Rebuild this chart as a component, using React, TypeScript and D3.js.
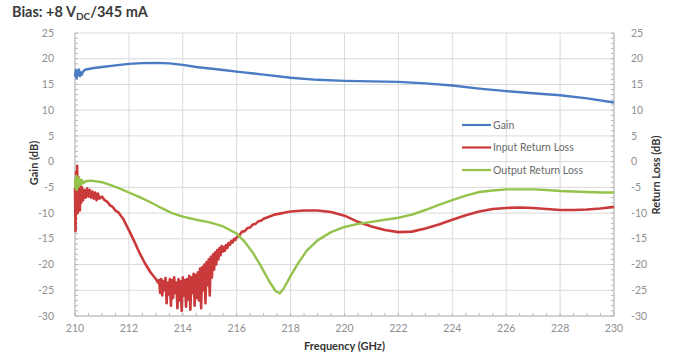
import React from "react";
import * as d3 from "d3";

const xTicks = [210, 212, 214, 216, 218, 220, 222, 224, 226, 228, 230];
const yTicks = [25, 20, 15, 10, 5, 0, -5, -10, -15, -20, -25, -30];

const gainFreq = [210.0, 210.03, 210.06, 210.09, 210.12, 210.15, 210.18, 210.21, 210.25, 210.3, 210.35, 210.4, 210.5, 210.7, 211.0, 211.5, 212.0, 212.5, 213.0, 213.5, 214.0, 214.5, 215.0, 215.5, 216.0, 217.0, 218.0, 219.0, 220.0, 221.0, 222.0, 223.0, 224.0, 225.0, 226.0, 227.0, 228.0, 229.0, 230.0];
const gainDb = [16.5, 17.8, 16.2, 17.6, 16.8, 17.9, 16.6, 17.4, 16.9, 17.5, 17.8, 17.9, 18.0, 18.2, 18.4, 18.7, 19.0, 19.15, 19.2, 19.1, 18.8, 18.4, 18.1, 17.8, 17.5, 16.9, 16.3, 15.9, 15.7, 15.6, 15.5, 15.2, 14.8, 14.2, 13.7, 13.3, 12.9, 12.3, 11.5];

const inputFreq = [210.0, 210.02, 210.04, 210.06, 210.08, 210.1, 210.12, 210.14, 210.16, 210.18, 210.2, 210.23, 210.26, 210.3, 210.35, 210.4, 210.45, 210.5, 210.55, 210.6, 210.65, 210.7, 210.75, 210.8, 210.85, 210.9, 211.0, 211.1, 211.2, 211.3, 211.4, 211.5, 211.6, 211.7, 211.8, 211.9, 212.0, 212.2, 212.4, 212.6, 212.8, 213.0, 213.08,
  213.12, 213.16, 213.2, 213.24, 213.28, 213.32, 213.36, 213.4, 213.44, 213.48, 213.52, 213.56, 213.6, 213.64, 213.68, 213.72, 213.76, 213.8, 213.84, 213.88, 213.92, 213.96,
  214.0, 214.04, 214.08, 214.12, 214.16, 214.2, 214.24, 214.28, 214.32, 214.36, 214.4, 214.44, 214.48, 214.52, 214.56, 214.6, 214.64, 214.68, 214.72, 214.76, 214.8, 214.84, 214.88, 214.92, 214.96,
  215.0, 215.04, 215.08, 215.12, 215.16, 215.2, 215.24, 215.28, 215.32, 215.36, 215.4, 215.44, 215.48, 215.52, 215.56, 215.6, 215.65, 215.7, 215.75, 215.8, 215.85, 215.9, 215.95,
  216.0, 216.1, 216.2, 216.3, 216.4, 216.5, 216.6, 216.7, 216.8, 216.9, 217.0, 217.2, 217.4, 217.6, 217.8, 218.0, 218.5, 219.0, 219.5, 220.0, 220.5, 221.0, 221.5, 222.0, 222.5, 223.0, 223.5, 224.0, 224.5, 225.0, 225.5, 226.0, 226.5, 227.0, 227.5, 228.0, 228.5, 229.0, 229.5, 230.0];
const inputDb = [-5, -13.5, -2, -9, -0.8, -10, -3, -8, -4, -9.5, -4.5, -8, -5, -7.5, -5.5, -7, -5.2, -6.8, -5.5, -7, -5.8, -7.2, -6, -7.5, -6.2, -7.2, -6.8, -7.5, -7.8, -8.5, -8.8, -9.5, -9.8, -10.5, -11.2, -12.3, -13.3, -15.5, -17.8, -19.8, -21.5, -22.8, -23.5,
  -23.0, -25.5, -22.8, -26.0, -23.2, -25.0, -22.6, -27.5, -23.5, -25.8, -22.8, -28.0, -23.0, -26.5, -22.5, -25.5, -23.5, -28.5, -22.8, -27.0, -23.2, -29.0,
  -22.5, -26.0, -23.0, -28.2, -22.8, -26.8, -22.2, -28.8, -22.5, -25.5, -21.8, -28.0, -22.0, -26.5, -21.5, -27.0, -20.8, -28.5, -20.5, -25.0, -20.0, -27.5, -19.5, -24.0, -19.0,
  -26.0, -18.5, -22.5, -18.0, -21.0, -17.6, -20.0, -17.2, -19.0, -16.8, -18.2, -16.4, -17.5, -16.6, -17.3, -16.2, -16.8, -15.8, -16.2, -15.4, -15.7, -15.0, -15.2,
  -14.7, -14.3, -13.6, -13.5, -12.9, -12.8, -12.2, -12.1, -11.6, -11.5, -11.1, -10.7, -10.3, -10.1, -9.9, -9.7, -9.5, -9.5, -9.8, -10.5, -11.7, -12.6, -13.3, -13.7, -13.6, -13.0, -12.2, -11.3, -10.4, -9.7, -9.2, -9.0, -8.9, -9.0, -9.2, -9.4, -9.4, -9.3, -9.1, -8.8];

const outputFreq = [210.0, 210.02, 210.04, 210.06, 210.08, 210.1, 210.12, 210.15, 210.18, 210.22, 210.26, 210.3, 210.4, 210.6, 211.0, 211.3, 211.6, 212.0, 212.4, 212.8, 213.2, 213.6, 214.0, 214.5, 215.0, 215.5, 216.0, 216.3, 216.6, 216.9, 217.2, 217.45, 217.6, 217.75, 218.0, 218.3, 218.6, 219.0, 219.5, 220.0, 220.5, 221.0, 221.5, 222.0, 222.5, 223.0, 223.5, 224.0, 224.5, 225.0, 225.5, 226.0, 226.5, 227.0, 227.5, 228.0, 228.5, 229.0, 229.5, 230.0];
const outputDb = [-3.5, -5.2, -2.8, -5.5, -3.0, -5.0, -3.2, -4.8, -3.4, -4.5, -3.6, -4.2, -3.8, -3.7, -4.0, -4.5, -5.1, -6.0, -6.9, -7.9, -9.0, -10.0, -10.7, -11.3, -11.8, -12.6, -14.0, -15.6, -17.7, -20.3, -23.2, -25.2, -25.6, -24.6, -22.2, -19.6, -17.3, -15.3, -13.7, -12.7, -12.1, -11.7, -11.3, -10.9, -10.3, -9.4, -8.4, -7.5, -6.6, -5.9, -5.6, -5.4, -5.4, -5.4, -5.5, -5.7, -5.8, -5.9, -6.0, -6.0];

const seriesNames = ["Gain", "Input Return Loss", "Output Return Loss"];
const seriesColors = ["#4a7cc3", "#ca3a3b", "#95c24b"];

const W = 675;
const H = 359;
const left = 75;
const right = 614;
const top = 33;
const bottom = 316;
const FONT = "Lato, 'Open Sans', sans-serif";

export default function App() {
  const x = d3.scaleLinear().domain([210, 230]).range([left, right]);
  const y = d3.scaleLinear().domain([-30, 25]).range([bottom, top]);
  const line = d3
    .line<[number, number]>()
    .x((d) => x(d[0]))
    .y((d) => y(d[1]));

  const series = [
    { f: gainFreq, v: gainDb, w: 2.4 },
    { f: inputFreq, v: inputDb, w: 2.6 },
    { f: outputFreq, v: outputDb, w: 2.4 },
  ];

  const minorX = d3.range(210, 230.001, 0.5);
  const minorY = d3.range(-30, 25.001, 1);
  const gridColor = "#dadada";
  const axisColor = "#b8b8b8";
  const tickColor = "#8f8f8f";

  return (
    <svg
      width={W}
      height={H}
      style={{ position: "absolute", left: 0, top: 0, background: "#fff" }}
      fontFamily={FONT}
    >
      <text x={12} y={17} fontSize={14.5} fontWeight="bold" fill="#3a3a3a">
        Bias: +8 V<tspan fontSize={10} dy={3}>DC</tspan>
        <tspan dy={-3}>/345 mA</tspan>
      </text>

      {yTicks.map((t) => (
        <line key={"gy" + t} x1={left} x2={right} y1={y(t)} y2={y(t)} stroke={gridColor} strokeWidth={1} />
      ))}
      {xTicks.map((t) => (
        <line key={"gx" + t} x1={x(t)} x2={x(t)} y1={top} y2={bottom} stroke={gridColor} strokeWidth={1} />
      ))}

      <line x1={left} x2={left} y1={top} y2={bottom} stroke={axisColor} />
      <line x1={right} x2={right} y1={top} y2={bottom} stroke={axisColor} />
      <line x1={left} x2={right} y1={bottom} y2={bottom} stroke={axisColor} />
      {minorY.map((t) => (
        <g key={"my" + t}>
          <line x1={left} x2={left + 3} y1={y(t)} y2={y(t)} stroke={axisColor} />
          <line x1={right - 3} x2={right} y1={y(t)} y2={y(t)} stroke={axisColor} />
        </g>
      ))}
      {minorX.map((t) => (
        <line key={"mx" + t} x1={x(t)} x2={x(t)} y1={bottom - 3} y2={bottom} stroke={axisColor} />
      ))}

      {series.map((s, i) => (
        <path
          key={seriesNames[i]}
          d={line(s.f.map((f, j) => [f, s.v[j]] as [number, number])) || ""}
          fill="none"
          stroke={seriesColors[i]}
          strokeWidth={s.w}
          strokeLinejoin="round"
        />
      ))}

      {yTicks.map((t) => (
        <text key={"ly" + t} x={54} y={y(t)} dy="0.35em" textAnchor="end" fontSize={10.5} fill={tickColor}>
          {t}
        </text>
      ))}
      {yTicks.map((t) => (
        <text key={"ry" + t} x={631} y={y(t)} dy="0.35em" textAnchor="start" fontSize={10.5} fill={tickColor}>
          {t}
        </text>
      ))}
      {xTicks.map((t) => (
        <text key={"lx" + t} x={x(t)} y={bottom + 12} dy="0.35em" textAnchor="middle" fontSize={10.5} fill={tickColor}>
          {t}
        </text>
      ))}

      <text x={344.5} y={346} dy="0.35em" textAnchor="middle" fontSize={11} fontWeight="bold" fill="#333">
        Frequency (GHz)
      </text>
      <text
        transform={`translate(34,163) rotate(-90)`}
        textAnchor="middle"
        dy="0.35em"
        fontSize={11}
        fontWeight="bold"
        fill="#333"
      >
        Gain (dB)
      </text>
      <text
        transform={`translate(656,175) rotate(-90)`}
        textAnchor="middle"
        dy="0.35em"
        fontSize={11}
        fontWeight="bold"
        fill="#333"
      >
        Return Loss (dB)
      </text>

      {seriesNames.map((n, i) => {
        const ly = 125 + i * 22.5;
        return (
          <g key={"lg" + n}>
            <line x1={462} x2={491} y1={ly} y2={ly} stroke={seriesColors[i]} strokeWidth={2.2} />
            <text x={493} y={ly} dy="0.35em" fontSize={10.5} fill="#6a6a6a">
              {n}
            </text>
          </g>
        );
      })}
    </svg>
  );
}
